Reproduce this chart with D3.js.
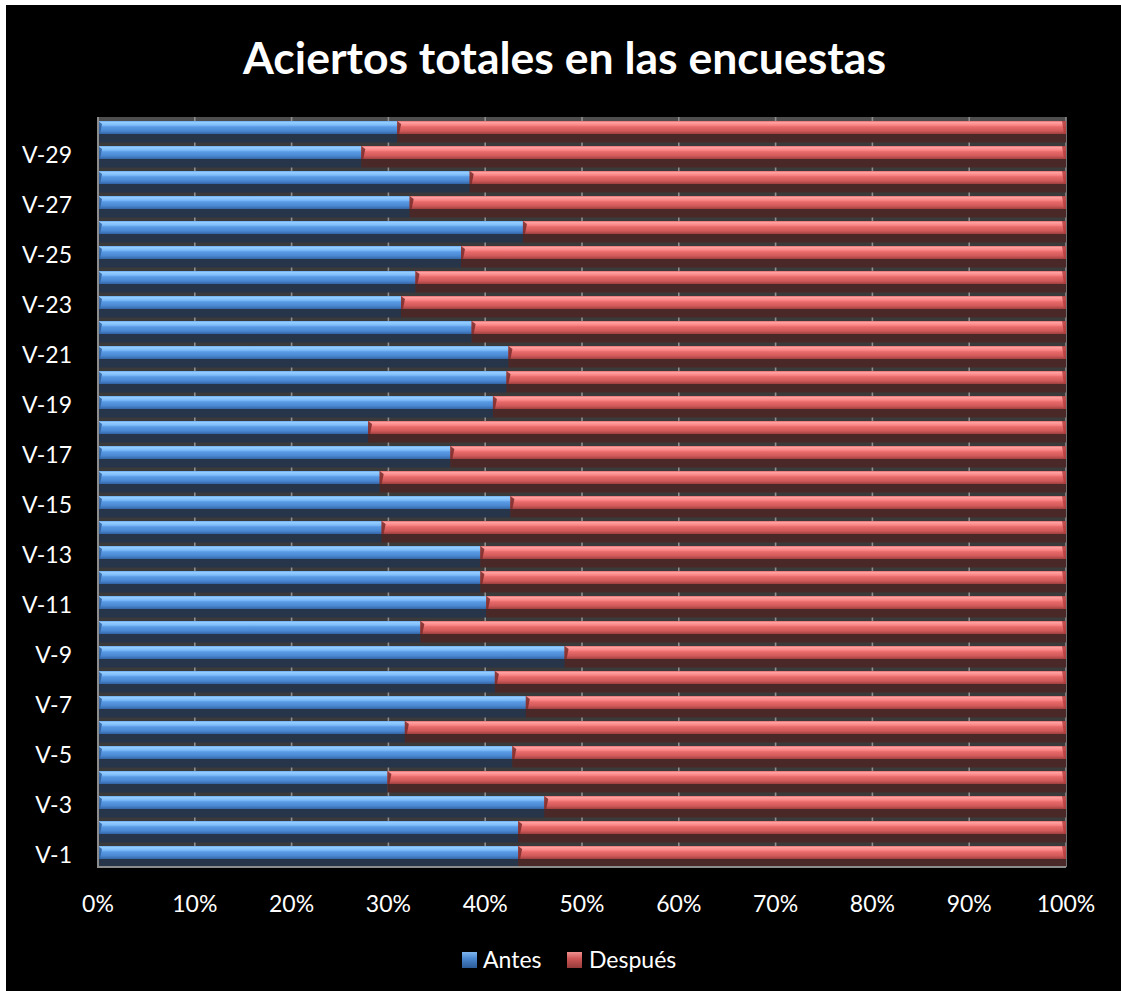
<!DOCTYPE html>
<html>
<head>
<meta charset="utf-8">
<script src="https://cdn.jsdelivr.net/npm/d3@7"></script>
<style>
  html, body { margin: 0; padding: 0; background: #ffffff; }
  svg { display: block; }
</style>
</head>
<body>
<svg id="chart" width="1121" height="991"></svg>
<script>
// ---- DATA ----
const categories = ["V-1","V-2","V-3","V-4","V-5","V-6","V-7","V-8","V-9","V-10",
  "V-11","V-12","V-13","V-14","V-15","V-16","V-17","V-18","V-19","V-20",
  "V-21","V-22","V-23","V-24","V-25","V-26","V-27","V-28","V-29","V-30"];
const antes = [43.4,43.4,46.1,29.9,42.8,31.7,44.2,41.0,48.2,33.3,
  40.1,39.5,39.5,29.3,42.6,29.1,36.4,27.9,40.8,42.2,
  42.4,38.6,31.3,32.8,37.5,43.9,32.2,38.4,27.2,30.9];
const despues = [56.6,56.6,53.9,70.1,57.2,68.3,55.8,59.0,51.8,66.7,
  59.9,60.5,60.5,70.7,57.4,70.9,63.6,72.1,59.2,57.8,
  57.6,61.4,68.7,67.2,62.5,56.1,67.8,61.6,72.8,69.1];
const seriesNames = ["Antes", "Después"];
const xTicks = [0,10,20,30,40,50,60,70,80,90,100];
const yLabelCats = categories.filter((c, i) => i % 2 === 0);
const title = "Aciertos totales en las encuestas";

// ---- LAYOUT ----
const svg = d3.select("#chart");
const FONT = "Lato, 'Open Sans', sans-serif";
const plot = {left: 98, right: 1066, top: 117, bottom: 867};

svg.append("rect").attr("x", 6).attr("y", 5).attr("width", 1121 - 6).attr("height", 991 - 5).attr("fill", "#000");

const x = d3.scaleLinear().domain([0, 100]).range([plot.left, plot.right]);
const y = d3.scaleBand().domain(categories.slice().reverse()).range([plot.top, plot.bottom]).padding(0);

const defs = svg.append("defs");
function grad(id, stops) {
  const g = defs.append("linearGradient").attr("id", id).attr("x1", 0).attr("x2", 0).attr("y1", 0).attr("y2", 1);
  stops.forEach(s => g.append("stop").attr("offset", s[0]).attr("stop-color", s[1]));
}
grad("gBlue", [[0, "#66a8ee"], [0.1, "#95cdff"], [0.32, "#7dbcfa"], [0.45, "#5a9ae4"], [0.75, "#4a88d2"], [1, "#3466a6"]]);
grad("gRed", [[0, "#e06a6a"], [0.1, "#ffa2a2"], [0.32, "#fb8585"], [0.45, "#e86a6a"], [0.75, "#d25a5a"], [1, "#a04040"]]);
grad("gLegBlue", [[0, "#7fb6ee"], [0.4, "#4a88d0"], [1, "#2c5b96"]]);
grad("gLegRed", [[0, "#f09090"], [0.4, "#d05858"], [1, "#963a3a"]]);

// plot background (back wall)
svg.append("rect").attr("x", plot.left).attr("y", plot.top).attr("width", plot.right - plot.left)
  .attr("height", plot.bottom - plot.top).attr("fill", "#3a3a3a");
svg.append("rect").attr("x", plot.left).attr("y", plot.top).attr("width", plot.right - plot.left)
  .attr("height", 4).attr("fill", "#4e4e4e");

// gridlines
svg.append("g").selectAll("line").data(xTicks).join("line")
  .attr("x1", d => x(d)).attr("x2", d => x(d))
  .attr("y1", plot.top).attr("y2", plot.bottom)
  .attr("stroke", "#8e8e8e").attr("stroke-width", 1.6);

// bars
const stacked = categories.map((c, i) => ({cat: c, vals: [antes[i], despues[i]]}));
const fills = ["url(#gBlue)", "url(#gRed)"];
const shadows = ["#26354a", "#4a2828"];
const bw = y.bandwidth();
const barTop = bw * 0.16, barH = bw * 0.52, shH = bw * 0.34;

const rows = svg.append("g").selectAll("g").data(stacked).join("g")
  .attr("transform", d => `translate(0,${y(d.cat)})`);

rows.each(function(d) {
  const g = d3.select(this);
  const total = d.vals[0] + d.vals[1];
  let acc = 0;
  d.vals.forEach((v, si) => {
    const x0 = x(acc / total * 100), x1 = x((acc + v) / total * 100);
    acc += v;
    g.append("rect").attr("x", x0).attr("y", barTop + barH).attr("width", x1 - x0).attr("height", shH)
      .attr("fill", shadows[si]);
    g.append("rect").attr("x", x0).attr("y", barTop).attr("width", x1 - x0).attr("height", barH)
      .attr("fill", fills[si]);
    // bevel at left end
    g.append("path")
      .attr("d", `M${x0},${barTop} L${x0 + 4},${barTop + 3} L${x0 + 2},${barTop + barH} L${x0},${barTop + barH} Z`)
      .attr("fill", si === 0 ? "#2f5f9c" : "#7a2c2c").attr("opacity", 0.85);
    if (si === 1) {
      g.append("path")
        .attr("d", `M${x1 - 4},${barTop} L${x1},${barTop} L${x1},${barTop + barH} L${x1 - 2},${barTop + barH} Z`)
        .attr("fill", "#b03c3c").attr("opacity", 0.8);
    }
  });
});

// axis lines
svg.append("line").attr("x1", plot.left).attr("x2", plot.left).attr("y1", plot.top).attr("y2", plot.bottom + 1)
  .attr("stroke", "#8c8c8c").attr("stroke-width", 2);
svg.append("line").attr("x1", plot.left).attr("x2", plot.right).attr("y1", plot.bottom).attr("y2", plot.bottom)
  .attr("stroke", "#8c8c8c").attr("stroke-width", 2);

// y labels
svg.append("g").selectAll("text").data(yLabelCats).join("text")
  .attr("x", 72).attr("y", d => y(d) + bw / 2 + 8.5)
  .attr("text-anchor", "end").attr("fill", "#fff")
  .attr("font-family", FONT).attr("font-size", 23).text(d => d);

// x labels
svg.append("g").selectAll("text").data(xTicks).join("text")
  .attr("x", d => x(d)).attr("y", 912)
  .attr("text-anchor", "middle").attr("fill", "#fff")
  .attr("font-family", FONT).attr("font-size", 23).text(d => d + "%");

// title
const t = svg.append("text").attr("x", 564.5).attr("y", 74).attr("text-anchor", "middle")
  .attr("fill", "#fff").attr("font-family", FONT).attr("font-weight", "bold").attr("font-size", 44).text(title);
const tw = t.node().getComputedTextLength();
t.attr("font-size", 44 * 643 / tw);

// legend
const legend = [{name: seriesNames[0], sx: 462, tx: 483, fill: "url(#gLegBlue)"},
                {name: seriesNames[1], sx: 567, tx: 589, fill: "url(#gLegRed)"}];
const lg = svg.append("g").selectAll("g").data(legend).join("g");
lg.append("rect").attr("x", d => d.sx).attr("y", 952).attr("width", 15).attr("height", 16).attr("fill", d => d.fill);
lg.append("text").attr("x", d => d.tx).attr("y", 968).attr("fill", "#fff")
  .attr("font-family", FONT).attr("font-size", 23).text(d => d.name);
</script>
</body>
</html>
